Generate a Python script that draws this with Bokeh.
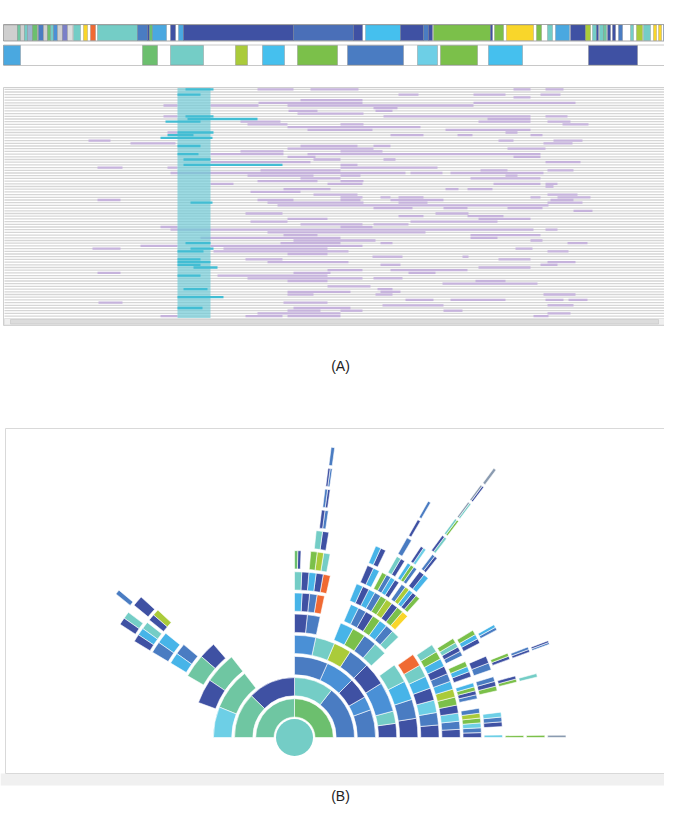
import math
from bokeh.plotting import figure
from bokeh.models import Range1d
from bokeh.embed import file_html
from bokeh.resources import INLINE
from bokeh.core.properties import value

# ---------------- palette ----------------
PAL = {
    "T": "#74cdc6", "TG": "#6fc6a2", "G": "#6cbf6e", "GR": "#7bc04a",
    "DB": "#3f51a3", "B": "#4a7cc2", "MB": "#4a90d6", "LB": "#47b4e8",
    "LT": "#6dcfe6", "YG": "#aacb3a", "Y": "#f9d62a", "R": "#f06a33",
    "GY": "#cfcfcf", "LG": "#dedede", "PB": "#7a7fc8", "SB": "#4aa8e0",
    "SK": "#45c0ee", "MD": "#4a6fb8", "BG": "#9fb3cf", "GL": "#8a9bb0",
}

# ---------------- (A) top strip 1: timeline segments (start, end, colour) ----------------
strip1_start = [3, 17, 20, 24, 27, 32, 37, 38, 43, 47, 50, 53, 57, 62, 67, 73, 83, 90, 97, 137, 147, 149,
                152, 170, 178, 183, 293, 353, 365, 400, 423, 428, 433, 490, 494, 506, 536, 547, 555, 570,
                585, 592, 596, 599, 603, 607, 612, 618, 630, 636, 643, 653, 658, 663, 668]
strip1_end = [17, 20, 24, 27, 32, 37, 38, 43, 47, 50, 53, 57, 62, 67, 72, 80, 87, 95, 137, 147, 149, 152,
              166, 175, 183, 293, 353, 362, 400, 423, 428, 432, 490, 492, 503, 533, 541, 552, 569, 585,
              590, 596, 598, 603, 606, 610, 615, 622, 633, 642, 650, 656, 661, 666, 677]
strip1_col = ["GY", "TG", "GY", "T", "BG", "G", "GY", "B", "GY", "G", "T", "MB", "GY", "PB", "LG", "T", "Y", "R",
              "T", "B", "DB", "G", "SB", "DB", "SB", "DB", "MD", "DB", "SK", "DB", "B", "DB", "GR", "DB",
              "GR", "Y", "GR", "T", "SB", "DB", "YG", "T", "DB", "T", "TG", "DB", "DB", "B", "T", "YG",
              "T", "Y", "Y", "B", "DB"]

# ---------------- (A) top strip 2 ----------------
strip2_start = [3, 142, 170, 235, 262, 297, 347, 417, 440, 488, 588]
strip2_end = [20, 157, 203, 247, 284, 337, 403, 437, 477, 522, 637]
strip2_col = ["SB", "G", "T", "YG", "SK", "GR", "B", "LT", "GR", "SK", "DB"]

# ---------------- (A) event rows: purple intervals (row, start, end) ----------------
purple = [
    (0, 257, 293), (0, 310, 358), (0, 513, 530), (0, 545, 563),
    (2, 398, 418), (2, 473, 505), (2, 540, 560), (3, 513, 530), (4, 300, 362),
    (5, 258, 362), (5, 473, 575), (6, 163, 177), (6, 210, 258), (6, 287, 473), (7, 373, 397),
    (8, 288, 317), (8, 375, 392), (9, 297, 363), (10, 163, 177), (10, 383, 530), (10, 545, 567),
    (11, 487, 530), (12, 240, 280), (12, 478, 530), (12, 547, 570), (13, 247, 287), (13, 340, 363),
    (13, 562, 588), (14, 287, 420), (15, 307, 372), (15, 445, 530), (16, 167, 177), (16, 505, 517),
    (17, 390, 423), (17, 457, 472), (17, 530, 542), (19, 88, 110), (19, 498, 513), (19, 553, 582),
    (20, 130, 175), (20, 543, 572), (21, 300, 357), (21, 373, 390), (22, 287, 373), (22, 507, 545),
    (23, 240, 283), (23, 340, 382), (24, 210, 283), (24, 307, 540), (25, 287, 315), (25, 513, 540),
    (26, 313, 340), (26, 383, 395), (27, 210, 310), (27, 545, 580), (28, 340, 357),
    (29, 97, 122), (29, 167, 177), (29, 340, 437), (30, 260, 340), (30, 480, 507), (30, 547, 573),
    (31, 170, 405), (31, 410, 442), (31, 450, 543), (32, 247, 313), (32, 340, 360), (32, 505, 517),
    (33, 300, 340), (33, 470, 540), (34, 257, 317), (34, 340, 363), (35, 210, 233), (35, 327, 362),
    (35, 493, 540), (35, 545, 557), (36, 545, 553), (37, 283, 330), (37, 445, 458), (37, 467, 492),
    (38, 250, 300), (39, 313, 357), (39, 547, 577), (40, 340, 362), (40, 380, 390), (40, 398, 423),
    (40, 530, 540), (40, 557, 590), (41, 97, 120), (41, 257, 293), (41, 340, 360), (41, 390, 443),
    (41, 550, 573), (42, 267, 363), (42, 398, 427), (42, 547, 582), (43, 277, 548),
    (44, 373, 412), (44, 443, 467), (44, 507, 542), (45, 573, 592), (46, 245, 282), (46, 435, 468),
    (47, 398, 423), (47, 467, 503), (48, 287, 327), (48, 478, 530), (49, 250, 287), (49, 410, 497),
    (50, 300, 362), (50, 373, 408), (51, 160, 177), (51, 340, 372), (52, 170, 533), (52, 545, 557),
    (53, 267, 425), (54, 283, 317), (54, 470, 540), (55, 200, 340), (55, 470, 497), (56, 293, 375),
    (56, 530, 542), (57, 280, 340), (57, 380, 392), (57, 567, 587), (58, 140, 177), (58, 210, 362),
    (59, 92, 120), (59, 223, 327), (59, 515, 532), (60, 213, 348), (60, 547, 568), (61, 287, 327),
    (62, 372, 402), (62, 462, 468), (63, 245, 282), (63, 498, 530), (64, 267, 348), (64, 547, 575),
    (65, 380, 400), (65, 540, 557), (66, 478, 530), (67, 327, 362), (67, 390, 467),
    (68, 97, 120), (68, 293, 330), (68, 408, 435), (69, 217, 327), (70, 247, 362), (70, 373, 402),
    (71, 287, 327), (71, 475, 505), (72, 442, 537), (73, 327, 370), (74, 377, 392),
    (75, 287, 350), (75, 380, 400), (76, 287, 313), (76, 375, 392), (76, 543, 575),
    (78, 405, 433), (78, 450, 505), (78, 545, 563), (78, 568, 587), (79, 98, 122), (79, 283, 327),
    (80, 382, 443), (80, 547, 573), (81, 293, 350), (82, 287, 320), (82, 340, 362), (82, 443, 462),
    (83, 257, 340), (83, 547, 570), (84, 160, 177), (84, 245, 282), (84, 287, 340), (84, 533, 548),
]
# selected (cyan) intervals
cyan = [
    (0, 185, 213), (2, 177, 200), (10, 185, 213), (11, 187, 257), (12, 165, 200), (16, 177, 213),
    (17, 167, 193), (18, 160, 212), (21, 177, 200), (24, 177, 198), (26, 183, 210), (28, 183, 282),
    (42, 190, 212), (57, 185, 210), (59, 190, 213), (60, 177, 203), (63, 177, 200), (64, 177, 210),
    (65, 177, 200), (66, 193, 217), (69, 177, 200), (74, 183, 207), (77, 177, 223), (81, 177, 202),
]
N_ROWS = 85
sel_window = (177, 210)

# ---------------- (B) sunburst: (ring, start_deg, end_deg, colours split evenly) ----------------
sun = [
    (1, 0, 90, "G"), (1, 90, 180, "TG"),
    (2, 0, 52, "B"), (2, 52, 90, "T"), (2, 90, 136, "DB"), (2, 136, 180, "TG"),
    (3, 0, 20, "B"), (3, 20, 30, "MB"), (3, 30, 45, "DB"), (3, 45, 66, "MB"), (3, 66, 90, "B"),
    (3, 128, 158, "TG"), (3, 158, 180, "LT"),
    (4, 0, 8, "DB"), (4, 8, 15, "T"), (4, 15, 32, "MB"), (4, 32, 45, "DB"), (4, 45, 57, "B"),
    (4, 57, 67, "YG"), (4, 67, 78, "T"), (4, 78, 90, "MB"), (4, 128, 146, "TG"), (4, 146, 160, "DB"),
    (5, 0, 36, "DB B LB T"), (5, 43, 68, "T B GR LB"), (5, 78, 90, "B DB"),
    (5, 131, 139, "DB"), (5, 139, 150, "TG"),
    (6, 0, 35, "DB B LT DB LB T R"), (6, 44, 67, "T B LB GR DB B LB"), (6, 78, 90, "R B DB LB"),
    (6, 140, 149, "B LB"),
    (7, 0, 34, "DB B LT DB GR YG LB B DB LB GR T"), (7, 47, 68, "Y GR DB YG GR B LB DB LB"),
    (7, 77.5, 90, "R DB LB DB T"), (7, 141, 149, "LB B"),
    (8, 0, 9, "DB B LT GR YG B"), (8, 12, 17, "B DB GR LB"), (8, 19, 24, "DB LB GR"),
    (8, 26, 32, "B DB T GR"), (8, 48, 55, "GR DB LB YG B"), (8, 56, 62, "DB LB B GR"),
    (8, 63, 67, "LB DB"), (8, 79, 85, "T YG GR"), (8, 88, 90, "DB G"),
    (8, 137, 141, "YG DB"), (8, 142, 149, "T LB DB"),
    (9, 0, 0.7, "LT"), (9, 3, 7, "DB B LT"), (9, 13, 17, "GR DB B"), (9, 19, 23, "B DB"),
    (9, 27, 31, "DB LB GR"), (9, 50, 53, "LB DB"), (9, 54, 57, "B GR LB"), (9, 58, 60.5, "DB T"),
    (9, 64, 67, "DB LB"), (9, 80.5, 84, "DB T"), (9, 137.5, 140.5, "DB"), (9, 143, 147, "T DB"),
    (10, 0, 0.5, "GR"), (10, 14, 15.6, "GR DB"), (10, 20, 21.6, "DB GR"), (10, 28, 29.5, "B LB"),
    (10, 51.5, 53, "DB B"), (10, 55, 56.5, "LT DB"), (10, 59.3, 60.6, "B"), (10, 81.5, 83.2, "B DB"),
    (10, 140, 141.2, "B"),
    (11, 0, 0.5, "GR"), (11, 14, 14.8, "T"), (11, 20, 21.2, "DB B"), (11, 52.6, 53.8, "T DB"),
    (11, 59.8, 60.5, "DB"), (11, 81.8, 83.0, "DB B"),
    (12, 0, 0.5, "GL"), (12, 20.1, 20.9, "B DB"), (12, 52.8, 53.7, "GR T"), (12, 59.9, 60.5, "B"),
    (12, 82.0, 82.9, "B DB"),
    (13, 52.9, 53.6, "T GL"), (13, 82.1, 82.8, "B"),
    (14, 52.9, 53.6, "DB GL"), (15, 53.0, 53.5, "GL"),
]
root_colour = "T"

# ---------------- figure (data units = reference pixels, y downwards) ----------------
p = figure(width=664, height=805, x_range=Range1d(0, 664), y_range=Range1d(805, 0),
           output_backend="svg", toolbar_location=None, x_axis_type=None, y_axis_type=None,
           min_border=0)
p.grid.visible = False
p.outline_line_color = None
p.background_fill_color = "white"
p.border_fill_color = "white"

# strip 1
S1_TOP, S1_BOT = 24, 40.5
p.quad(left=[3], right=[677], top=[S1_TOP], bottom=[S1_BOT], fill_color="white",
       line_color="#a8a8a8", line_width=1)
p.quad(left=strip1_start, right=strip1_end, top=S1_TOP + 0.5, bottom=S1_BOT - 0.5,
       fill_color=[PAL[c] for c in strip1_col], line_color="#777777", line_width=0.5, line_alpha=0.6)

# strip 2
S2_TOP, S2_BOT = 44.5, 65
p.quad(left=[3], right=[677], top=[S2_TOP], bottom=[S2_BOT], fill_color="white",
       line_color="#c8c8c8", line_width=1)
p.quad(left=strip2_start, right=strip2_end, top=S2_TOP + 0.5, bottom=S2_BOT - 0.5,
       fill_color=[PAL[c] for c in strip2_col], line_color="#8a8a8a", line_width=0.6, line_alpha=0.7)

# event panel
P_L, P_R, P_T, P_B = 3, 677, 87, 325
ROW0, ROWH = 88.8, 2.7
p.quad(left=[P_L], right=[P_R], top=[P_T], bottom=[P_B], fill_color="white",
       line_color="#cfcfcf", line_width=1)
row_y = [ROW0 + i * ROWH for i in range(N_ROWS)]
p.segment(x0=[P_L + 1] * N_ROWS, x1=[669] * N_ROWS, y0=row_y, y1=row_y,
          line_color="#d6d6d6", line_width=1.3)
p.segment(x0=[s for r, s, e in purple], x1=[e for r, s, e in purple],
          y0=[ROW0 + r * ROWH for r, s, e in purple], y1=[ROW0 + r * ROWH for r, s, e in purple],
          line_color="#c6b3dc", line_width=2.3)
p.quad(left=[sel_window[0]], right=[sel_window[1]], top=[P_T + 0.5], bottom=[318],
       fill_color="#6ac8d5", fill_alpha=0.66, line_color=None)
p.segment(x0=[s for r, s, e in cyan], x1=[e for r, s, e in cyan],
          y0=[ROW0 + r * ROWH for r, s, e in cyan], y1=[ROW0 + r * ROWH for r, s, e in cyan],
          line_color="#42bdd3", line_width=2.3)
# scrollbars
p.quad(left=[P_L + 1], right=[670], top=[318], bottom=[324.5], fill_color="#efefef",
       line_color="#dddddd", line_width=0.8)
p.quad(left=[10], right=[658], top=[319], bottom=[323.5], fill_color="#dcdcdc",
       line_color="#c4c4c4", line_width=0.6)
p.quad(left=[670], right=[677], top=[P_T + 1], bottom=[318], fill_color="#f3f3f3",
       line_color="#dddddd", line_width=0.8)

p.text(x=[340], y=[365], text=["(A)"], text_align="center", text_baseline="middle",
       text_font=value("Liberation Sans"), text_font_size="14px", text_color="#222222")

# sunburst panel
p.quad(left=[0], right=[680], top=[773], bottom=[785], fill_color="#f0f0f0", line_color=None)
p.quad(left=[5], right=[677], top=[428], bottom=[773], fill_color="white",
       line_color="#d9d9d9", line_width=1)

CX, CY = 294, 737
R_CORE, R_FIRST, R_PITCH, R_WIDTH = 18.5, 20.5, 21.15, 18.3
rin, rout, a0s, a1s, cols = [], [], [], [], []
for ring, a0, a1, cs in sun:
    parts = cs.split()
    step = (a1 - a0) / len(parts)
    for k, c in enumerate(parts):
        rin.append(R_FIRST + (ring - 1) * R_PITCH)
        rout.append(R_FIRST + (ring - 1) * R_PITCH + R_WIDTH)
        a0s.append(math.radians(a0 + k * step))
        a1s.append(math.radians(a0 + (k + 1) * step))
        cols.append(PAL[c])
p.annular_wedge(x=CX, y=CY, inner_radius=rin, outer_radius=rout, start_angle=a0s, end_angle=a1s,
                fill_color=cols, line_color="white", line_width=0.6)
p.circle(x=[CX], y=[CY], radius=R_CORE, fill_color=PAL[root_colour], line_color=None)

p.text(x=[340], y=[795], text=["(B)"], text_align="center", text_baseline="middle",
       text_font=value("Liberation Sans"), text_font_size="14px", text_color="#222222")

open("out.html", "w").write(file_html(p, INLINE))
